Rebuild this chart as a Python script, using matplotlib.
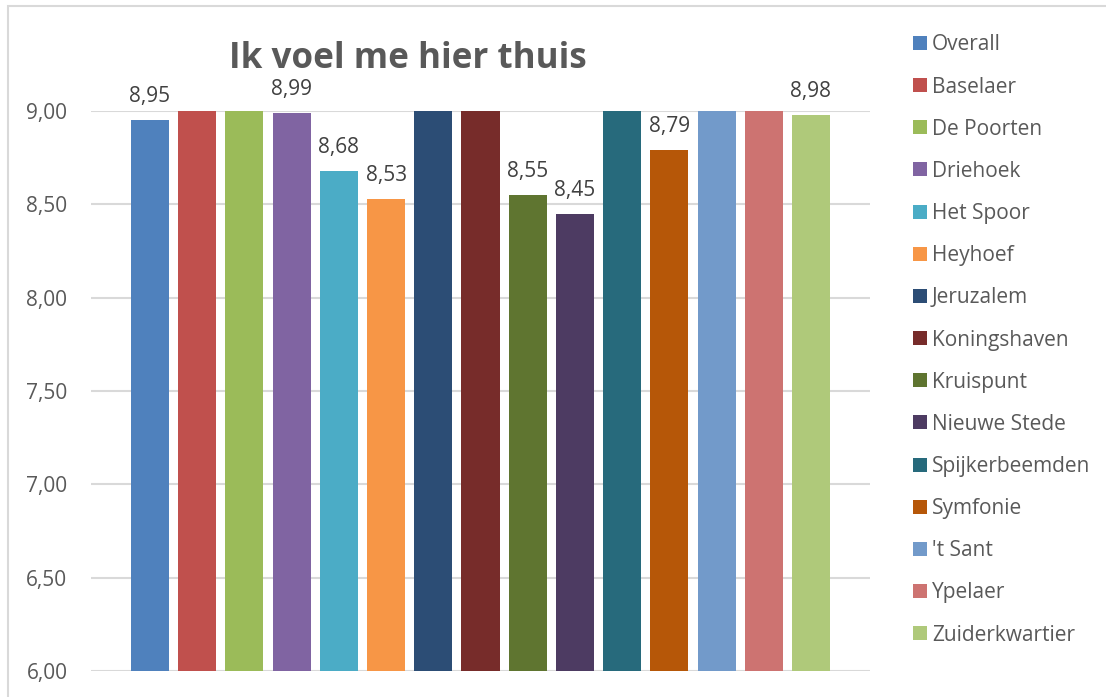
import matplotlib
matplotlib.use("Agg")
import matplotlib.pyplot as plt
from matplotlib.patches import Rectangle

# wijken en scores
wijken = ["Overall", "Baselaer", "De Poorten", "Driehoek", "Het Spoor", "Heyhoef",
          "Jeruzalem", "Koningshaven", "Kruispunt", "Nieuwe Stede", "Spijkerbeemden",
          "Symfonie", "'t Sant", "Ypelaer", "Zuiderkwartier"]
# bars that run past 9,00 are cut off in the picture, their value is a guess
scores = [8.95, 9.10, 9.10, 8.99, 8.68, 8.53, 9.10, 9.10, 8.55, 8.45, 9.10,
          8.79, 9.10, 9.10, 8.98]
kleuren = ["#4F81BD", "#C0504D", "#9BBB59", "#8064A2", "#4BACC6", "#F79646",
           "#2C4D75", "#772C2A", "#5F7530", "#4D3B62", "#276A7C", "#B65708",
           "#729ACA", "#CD7371", "#AFC97A"]
y_ticks = [6.0, 6.5, 7.0, 7.5, 8.0, 8.5, 9.0]

plt.rcParams['font.family'] = ['Open Sans', 'DejaVu Sans']
W, H = 1106, 697
fig = plt.figure(figsize=(W / 100, H / 100), dpi=100)

# chart border (light grey, cut off on right/bottom)
fig.patches.append(Rectangle((8 / W, -0.1), 1.2, 1 - 6 / H + 0.1, transform=fig.transFigure,
                             fill=False, edgecolor="#D9D9D9", linewidth=1.5))

ax = fig.add_axes([91 / W, 1 - 671 / H, 779 / W, (671 - 111) / H])
x = list(range(len(wijken)))
ax.bar(x, scores, width=0.805, color=kleuren, zorder=3)

ax.set_ylim(6.0, 9.0)
ax.set_xlim(-1.25, len(wijken) + 0.25)
ax.set_yticks(y_ticks)
ax.set_yticklabels([f"{t:.2f}".replace(".", ",") for t in y_ticks])
ax.tick_params(axis='y', length=0, pad=17, labelsize=15, labelcolor="#595959")
ax.set_xticks([])
for s in ax.spines.values():
    s.set_visible(False)
ax.grid(axis='y', color="#D9D9D9", linewidth=1.5, zorder=0)

for xi, v in zip(x, scores):
    if v <= 9.0:
        ax.annotate(f"{v:.2f}".replace(".", ","), (xi, v), xytext=(0, 13),
                    textcoords="offset points", ha="center", va="baseline",
                    fontsize=15, color="#404040", annotation_clip=False)

fig.text(229 / W, 1 - 68 / H, "Ik voel me hier thuis", fontsize=25.2, fontweight="bold",
         color="#595959", ha="left", va="baseline")

# legend, drawn by hand so rows line up with the reference
for i, (naam, kleur) in enumerate(zip(wijken, kleuren)):
    yc = 43 + 42.15 * i
    fig.patches.append(Rectangle((913 / W, 1 - (yc + 7) / H), 14 / W, 14 / H,
                                 transform=fig.transFigure, facecolor=kleur,
                                 edgecolor="none"))
    fig.text(932 / W, 1 - (yc + 7.5) / H, naam, fontsize=15, color="#595959",
             ha="left", va="baseline")

fig.savefig("out.png", dpi=100)
